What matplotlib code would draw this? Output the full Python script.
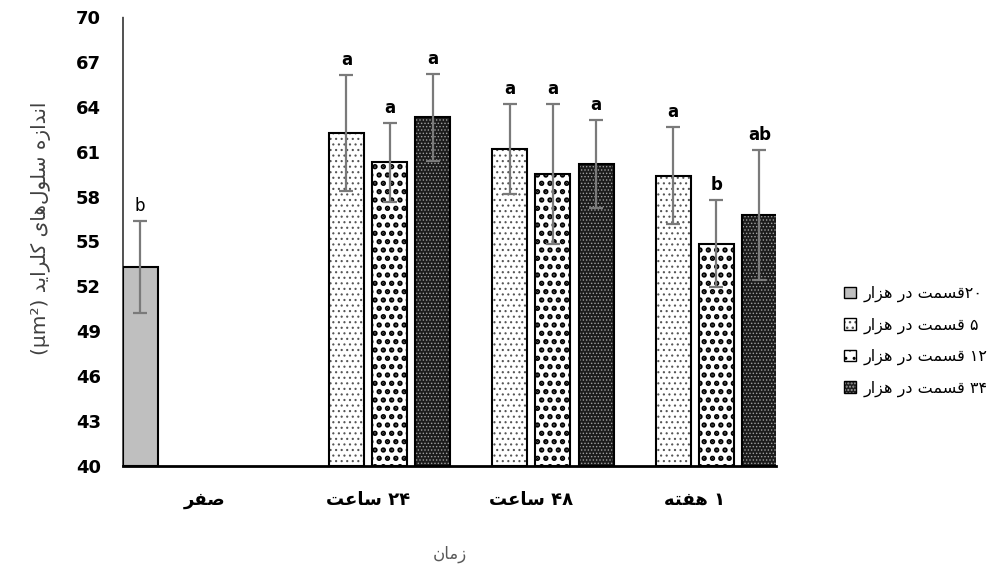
import re
import unicodedata
import numpy as np
import matplotlib
matplotlib.use("Agg")
import matplotlib.pyplot as plt
from matplotlib.patches import Patch

# ── data ──────────────────────────────────────────────────────────────────────

times = ["صفر", "۲۴ ساعت", "۴۸ ساعت", "۱ هفته"]
doses = ["۲۰قسمت در هزار", "۵ قسمت در هزار", "۱۲ قسمت در هزار", "۳۴ قسمت در هزار"]

nan = np.nan
mean_20 = [53.3, nan, nan, nan]
err_20 = [3.05, nan, nan, nan]
sig_20 = ["b", "", "", ""]

mean_5 = [nan, 62.25, 61.2, 59.4]
err_5 = [nan, 3.9, 3.0, 3.25]
sig_5 = ["", "a", "a", "a"]

mean_12 = [nan, 60.3, 59.5, 54.85]
err_12 = [nan, 2.65, 4.7, 2.9]
sig_12 = ["", "a", "a", "b"]

mean_34 = [nan, 63.3, 60.2, 56.75]
err_34 = [nan, 2.9, 2.95, 4.35]
sig_34 = ["", "a", "a", "ab"]

y_ticks = [40, 43, 46, 49, 52, 55, 58, 61, 64, 67, 70]

ylabel = "اندازه سلول‌های کلراید (µm²)"
xlabel = "زمان"


# ── persian text: contextual letter forms + right-to-left order ──────────────
# matplotlib does no shaping, so pick presentation forms by hand

def letter_forms(ch):
    try:
        name = unicodedata.name(ch)
    except ValueError:
        return None
    if not name.startswith("ARABIC LETTER"):
        return None
    forms = {}
    for f in ("ISOLATED", "FINAL", "INITIAL", "MEDIAL"):
        try:
            forms[f] = unicodedata.lookup(f"{name} {f} FORM")
        except KeyError:
            pass
    return forms


def fa(text):
    chars = list(text)
    info = [letter_forms(c) for c in chars]
    out = []
    for i, c in enumerate(chars):
        f = info[i]
        if not f:
            if c != "\u200c":
                out.append(c)
            continue
        dual = "INITIAL" in f
        prev = info[i - 1] if i > 0 else None
        nxt = info[i + 1] if i + 1 < len(chars) else None
        right = bool(prev) and "INITIAL" in prev
        left = dual and bool(nxt)
        if right and left:
            key = "MEDIAL"
        elif right:
            key = "FINAL"
        elif left:
            key = "INITIAL"
        else:
            key = "ISOLATED"
        out.append(f.get(key, c))
    s = "".join(out)[::-1]
    s = re.sub(r"[0-9A-Za-zµ²\u06F0-\u06F9]+", lambda m: m.group()[::-1], s)
    return s.translate(str.maketrans("()", ")("))


def hatch_lw(patches, lw):
    for p in patches:
        if hasattr(p, "set_hatch_linewidth"):
            p.set_hatch_linewidth(lw)


# ── plot ──────────────────────────────────────────────────────────────────────

plt.rcParams["font.family"] = ["DejaVu Sans"]

fig = plt.figure(figsize=(10.02, 5.75), dpi=100)
ax = fig.add_axes([0.1228, 0.1896, 0.652, 0.7808])

means = [mean_20, mean_5, mean_12, mean_34]
errs = [err_20, err_5, err_12, err_34]
sigs = [sig_20, sig_5, sig_12, sig_34]

# (face, hatch, hatch colour, hatch width) per series
styles = [
    ("#bfbfbf", None, "#bfbfbf", 1.0),
    ("white", "...", "#555555", 0.8),
    ("white", "..", "black", 2.6),
    ("#1c1c1c", ".....", "#a0a0a0", 0.6),
]

slot = 0.264
width = 0.214
x_idx = np.arange(len(times))
handles = []

for j in range(4):
    m = np.array(means[j], dtype=float)
    e = np.array(errs[j], dtype=float)
    ok = ~np.isnan(m)
    xs = x_idx[ok] + (j - 1.5) * slot
    face, hatch, hcol, hlw = styles[j]
    bars = ax.bar(xs, m[ok] - 40, width, bottom=40, color=face, hatch=hatch,
                  edgecolor=hcol, linewidth=0, zorder=2)
    hatch_lw(bars, hlw)
    ax.bar(xs, m[ok] - 40, width, bottom=40, fill=False,
           edgecolor="black", linewidth=1.5, zorder=3)
    ax.errorbar(xs, m[ok], yerr=e[ok], fmt="none", ecolor="#7a7a7a",
                elinewidth=1.6, capsize=5, capthick=1.6, zorder=4)
    for x, top, er, s in zip(xs, m[ok], e[ok], np.array(sigs[j])[ok]):
        ax.text(x, top + er + 0.4, s, ha="center", va="bottom", fontsize=12,
                fontweight="normal" if j == 0 else "bold", color="black")
    fill_h = Patch(facecolor=face, hatch=hatch, edgecolor=hcol, linewidth=0)
    hatch_lw([fill_h], hlw)
    handles.append((fill_h, Patch(fill=False, edgecolor="black", linewidth=1.0)))

ax.set_xlim(-0.5, 3.5)
ax.set_ylim(40, 70)
ax.set_yticks(y_ticks)
ax.set_yticklabels([str(t) for t in y_ticks], fontsize=13, fontweight="bold")
ax.tick_params(axis="y", length=0, pad=16)
ax.set_xticks(x_idx)
ax.set_xticklabels([fa(t) for t in times], fontsize=13, fontweight="bold")
ax.tick_params(axis="x", length=0, pad=18)

for side in ("top", "right"):
    ax.spines[side].set_visible(False)
ax.spines["left"].set_linestyle((0, (1.5, 1)))
ax.spines["left"].set_color("#333333")
ax.spines["left"].set_linewidth(1.2)
ax.spines["bottom"].set_linewidth(2)
ax.spines["bottom"].set_zorder(5)

ax.set_ylabel(fa(ylabel), fontsize=14.5, color="#404040")
ax.yaxis.set_label_coords(-0.11, 0.53)
ax.set_xlabel(fa(xlabel), fontsize=12, color="#595959")
ax.xaxis.set_label_coords(0.5, -0.175)

fig.legend(handles, [fa(d) for d in doses], loc="center left",
           bbox_to_anchor=(0.828, 0.406), frameon=False, fontsize=11.5,
           handlelength=0.75, handleheight=0.75, handletextpad=0.5,
           labelspacing=0.95)

fig.savefig("out.png", dpi=100)
